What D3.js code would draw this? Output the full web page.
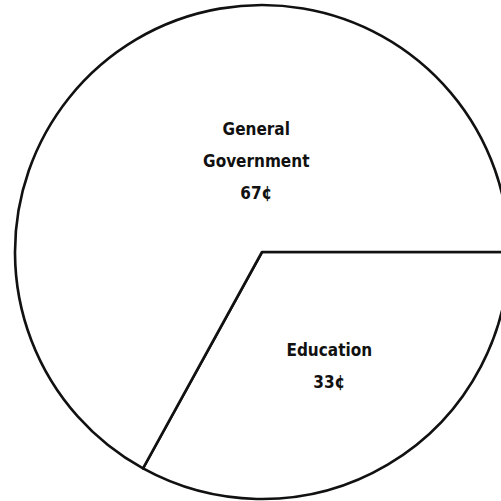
<!DOCTYPE html>
<html>
<head>
<meta charset="utf-8">
<script src="https://cdn.jsdelivr.net/npm/d3@7"></script>
<style>
  body { margin: 0; background: #fff; }
  svg { display: block; }
</style>
</head>
<body>
<svg id="chart"></svg>
<script>
// Data
const categories = ["Education", "General Government"];
const values = [33, 67];
const labelLines = [["Education", "33¢"], ["General", "Government", "67¢"]];

const width = 501, height = 501;
const cx = 262, cy = 252, radius = 247;

const svg = d3.select("#chart")
    .attr("width", width)
    .attr("height", height);

const g = svg.append("g")
    .attr("transform", "translate(" + cx + "," + cy + ")");

// Education starts at 3 o'clock and runs clockwise
const pie = d3.pie()
    .sort(null)
    .value(d => d)
    .startAngle(Math.PI / 2)
    .endAngle(Math.PI / 2 + 2 * Math.PI);

const arcs = pie(values);
const arc = d3.arc().innerRadius(0).outerRadius(radius);

g.selectAll(".slice")
    .data(arcs)
    .join("path")
        .attr("class", "slice")
        .attr("d", arc)
        .style("fill", "#fff")
        .style("stroke", "#111")
        .style("stroke-width", "2.6px")
        .style("stroke-linejoin", "round");

// label placement: polar offset from centre (fraction of radius, angle tweak)
const labelPos = [
    { r: 0.535, da: 0 },
    { r: 0.37, da: Math.PI * 0.15 }
];
const lineH = 32;

const labels = g.selectAll(".lbl")
    .data(arcs)
    .join("text")
        .attr("class", "lbl")
        .attr("text-anchor", "middle")
        .style("font-family", "'DejaVu Sans Condensed', 'Liberation Sans Narrow', sans-serif")
        .style("font-stretch", "condensed")
        .style("font-weight", "bold")
        .style("font-size", "17px")
        .style("fill", "#111")
        .attr("transform", (d, i) => {
            const a = (d.startAngle + d.endAngle) / 2 + labelPos[i].da;
            const rr = labelPos[i].r * radius;
            const n = labelLines[i].length;
            const x = rr * Math.sin(a);
            const y = -rr * Math.cos(a) - (n - 1) * lineH / 2;
            return "translate(" + x + "," + y + ")";
        });

labels.selectAll("tspan")
    .data((d, i) => labelLines[i])
    .join("tspan")
        .attr("x", 0)
        .attr("dy", (d, j) => j === 0 ? "0.35em" : lineH)
        .text(d => d);
</script>
</body>
</html>
